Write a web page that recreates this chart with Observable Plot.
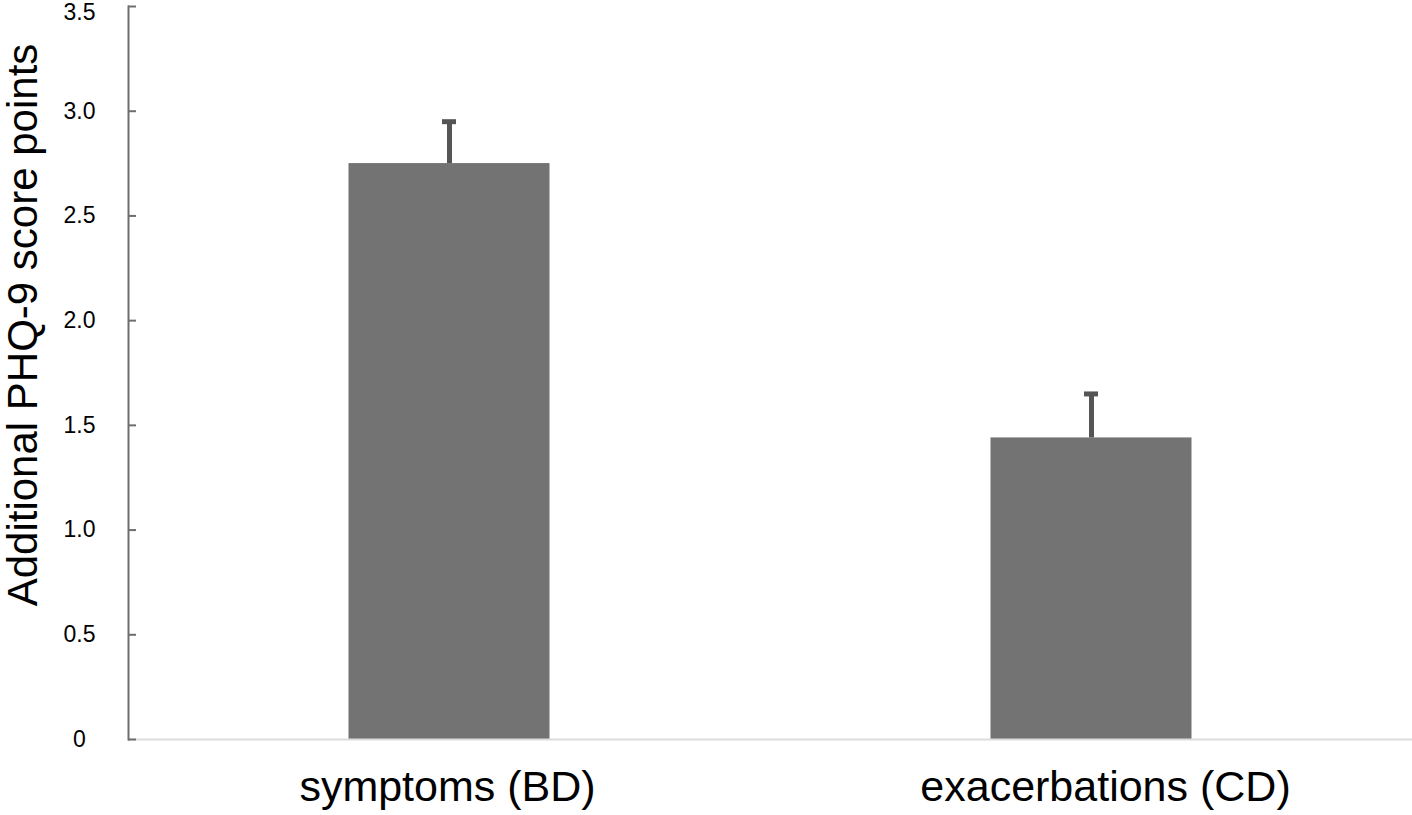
<!DOCTYPE html>
<html>
<head>
<meta charset="utf-8">
<script src="https://cdn.jsdelivr.net/npm/d3@7"></script>
<script src="https://cdn.jsdelivr.net/npm/@observablehq/plot@0.6"></script>
<style>
  html, body { margin: 0; padding: 0; background: #fff; }
  #chart svg { display: block; }
</style>
</head>
<body>
<div id="chart"></div>
<script>
const categories = ["symptoms (BD)", "exacerbations (CD)"];
const values = [2.75, 1.44];
const errors = [0.20, 0.21];
const yTicks = [0, 0.5, 1.0, 1.5, 2.0, 2.5, 3.0, 3.5];
const yTitle = "Additional PHQ-9 score points";

const data = categories.map((c, i) => ({cat: c, value: values[i], err: errors[i]}));
const W = 1412, H = 815, ML = 128, MR = 0, MT = 6, MB = 76;
const step = (W - ML - MR) / categories.length;
const barW = 201, capW = 14, tickLen = 8;
const font = "Helvetica, 'Liberation Sans', Arial, sans-serif";
const fmt = d => d === 0 ? "0" : d.toFixed(1);
const topTick = yTicks[yTicks.length - 1];

const chart = Plot.plot({
  width: W, height: H,
  marginLeft: ML, marginRight: MR, marginTop: MT, marginBottom: MB,
  style: {fontFamily: font, background: "#fff", overflow: "visible"},
  x: {type: "band", domain: categories, padding: 0, axis: null},
  y: {domain: [0, 3.5], axis: null},
  marks: [
    Plot.barY(data, {x: "cat", y: "value", fill: "#737373",
      insetLeft: (step - barW) / 2, insetRight: (step - barW) / 2}),
    Plot.ruleX(data, {x: "cat", y1: "value", y2: d => d.value + d.err, stroke: "#555", strokeWidth: 5}),
    Plot.tickY(data, {x: "cat", y: d => d.value + d.err, stroke: "#555", strokeWidth: 5,
      insetLeft: (step - capW) / 2, insetRight: (step - capW) / 2}),
    Plot.ruleY([0], {stroke: "#dcdcdc", strokeWidth: 2}),
    Plot.frame({anchor: "left", stroke: "#6e6e6e", strokeWidth: 2}),
    Plot.tickY(yTicks, {y: d => d, x: () => categories[0], stroke: "#6e6e6e", strokeWidth: 2,
      insetRight: step - tickLen}),
    Plot.text(yTicks.filter(d => d !== topTick), {y: d => d, text: fmt, frameAnchor: "left",
      dx: -49, textAnchor: "middle", fontSize: 23, fill: "#000"}),
    Plot.text([topTick], {y: d => d, text: fmt, frameAnchor: "left",
      dx: -49, dy: -3, lineAnchor: "top", textAnchor: "middle", fontSize: 23, fill: "#000"}),
    Plot.text([categories[0]], {x: d => d, text: d => d, frameAnchor: "bottom", dy: 48, dx: -2,
      lineAnchor: "middle", fontSize: 43, fill: "#000"}),
    Plot.text([categories[1]], {x: d => d, text: d => d, frameAnchor: "bottom", dy: 48, dx: 14,
      lineAnchor: "middle", fontSize: 43, fill: "#000"}),
    Plot.text([yTitle], {text: d => d, frameAnchor: "left", dx: -105, dy: -48, rotate: -90,
      lineAnchor: "middle", textAnchor: "middle", fontSize: 42, fill: "#000"})
  ]
});
document.getElementById("chart").appendChild(chart);
</script>
</body>
</html>
